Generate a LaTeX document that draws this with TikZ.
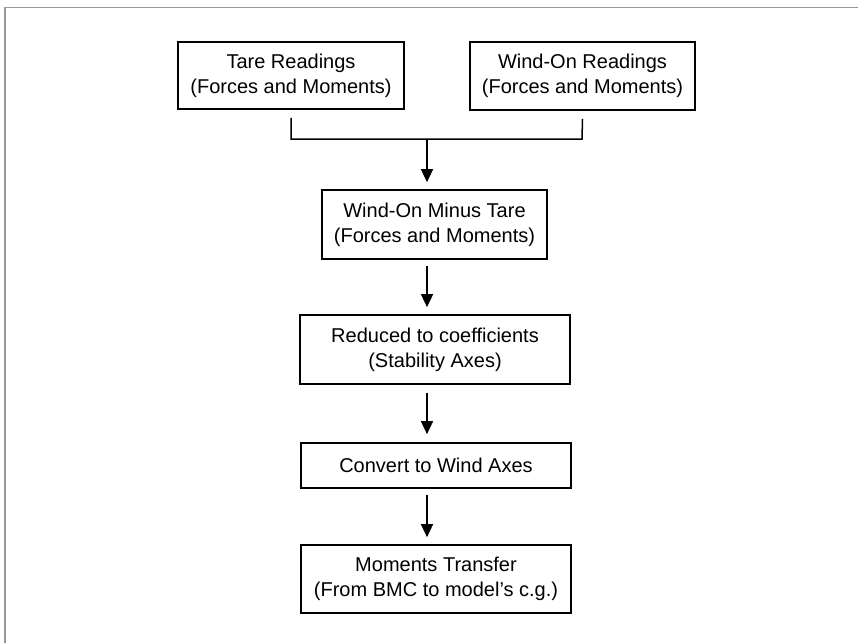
\documentclass[tikz,border=0pt]{standalone}
\usepackage{fontspec}
\setmainfont{Liberation Sans}
\usetikzlibrary{arrows.meta}
\begin{document}
\begin{tikzpicture}[x=1pt,y=-1pt,
  box/.style={draw=black,line width=1.7pt,rectangle,align=center,inner sep=0pt,
    font=\fontsize{20}{25}\selectfont},
  conn/.style={line width=1.5pt,black},
  arr/.style={conn,-{Triangle[length=13pt,width=12pt]}},
  frame/.style={line width=1.8pt,draw=black!40}]
\useasboundingbox (0,0) rectangle (858,643);
\draw[frame] (858,7.5) -- (5,7.5) -- (5,643);
\node[box,minimum width=226pt,minimum height=67pt] (tare) at (291,75.5) {Tare Readings\\(Forces and Moments)};
\node[box,minimum width=225pt,minimum height=68pt] (won) at (582.5,76) {Wind-On Readings\\(Forces and Moments)};
\node[box,minimum width=225pt,minimum height=69pt] (minus) at (434.5,224.5) {Wind-On Minus Tare\\(Forces and Moments)};
\node[box,minimum width=270pt,minimum height=69pt] (red) at (435,349.5) {Reduced to coefficients\\(Stability Axes)};
\node[box,minimum width=270pt,minimum height=45pt] (conv) at (436,465.5) {Convert to Wind Axes};
\node[box,minimum width=270pt,minimum height=68pt] (mom) at (436,579) {Moments Transfer\\(From BMC to model’s c.g.)};
\coordinate (ax) at (427,0);
\coordinate (bl) at (291,139);
\coordinate (br) at (582,139);
\coordinate (bm) at (427,139);
\draw[conn] ([yshift=-8pt]tare.south) -- (bl) -- (br) -- ([yshift=-8pt]won.south);
\draw[arr] (bm) -- ([yshift=7pt]minus.north -| ax);
\draw[arr] ([yshift=-6pt]minus.south -| ax) -- ([yshift=7pt]red.north -| ax);
\draw[arr] ([yshift=-8pt]red.south -| ax) -- ([yshift=8pt]conv.north -| ax);
\draw[arr] ([yshift=-6pt]conv.south -| ax) -- ([yshift=7pt]mom.north -| ax);
\end{tikzpicture}
\end{document}
